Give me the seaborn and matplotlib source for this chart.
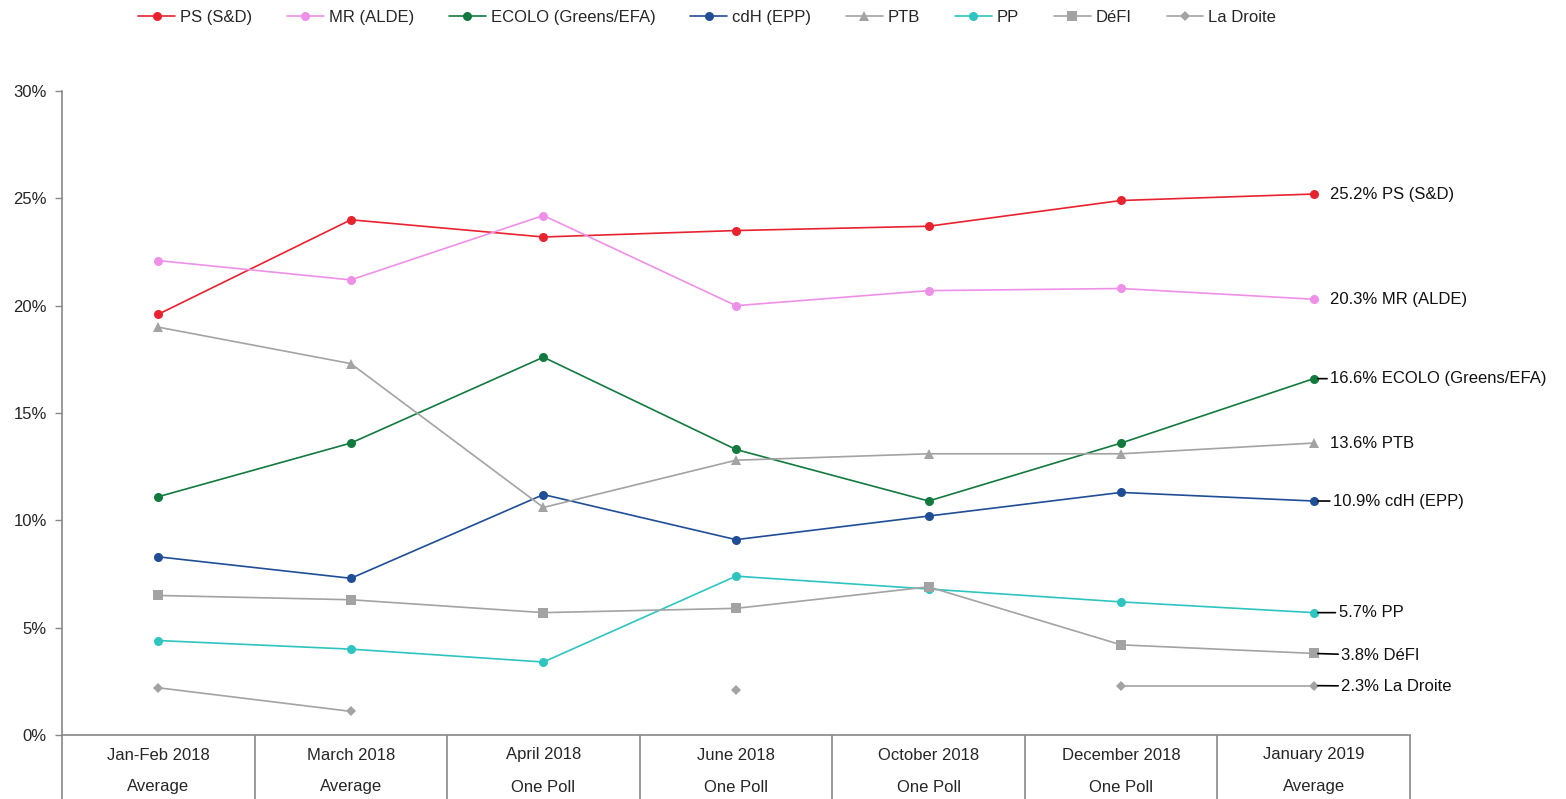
import numpy as np
import pandas as pd
import seaborn as sns
import matplotlib.pyplot as plt
from matplotlib.lines import Line2D
import matplotlib.transforms as mtransforms

# Data
periods = ["Jan-Feb 2018", "March 2018", "April 2018", "June 2018",
           "October 2018", "December 2018", "January 2019"]
methods = ["Average", "Average", "One Poll", "One Poll",
           "One Poll", "One Poll", "Average"]

parties = ["PS (S&D)", "MR (ALDE)", "ECOLO (Greens/EFA)", "cdH (EPP)",
           "PTB", "PP", "DéFI", "La Droite"]

ps = [19.6, 24.0, 23.2, 23.5, 23.7, 24.9, 25.2]
mr = [22.1, 21.2, 24.2, 20.0, 20.7, 20.8, 20.3]
ecolo = [11.1, 13.6, 17.6, 13.3, 10.9, 13.6, 16.6]
cdh = [8.3, 7.3, 11.2, 9.1, 10.2, 11.3, 10.9]
ptb = [19.0, 17.3, 10.6, 12.8, 13.1, 13.1, 13.6]
pp = [4.4, 4.0, 3.4, 7.4, 6.8, 6.2, 5.7]
defi = [6.5, 6.3, 5.7, 5.9, 6.9, 4.2, 3.8]
la_droite = [2.2, 1.1, np.nan, 2.1, np.nan, 2.3, 2.3]

series = [ps, mr, ecolo, cdh, ptb, pp, defi, la_droite]

# Styles
colors = ["#E8222E", "#EE90E8", "#137A3F", "#1F4E96",
          "#A3A3A3", "#2EC4C0", "#A3A3A3", "#A3A3A3"]
markers = ["o", "o", "o", "o", "^", "o", "s", "D"]
msizes = [6.5, 6.5, 6.5, 6.5, 6.5, 6.5, 6.5, 5]
# end-label offsets in points (dx, dy) and whether a leader line is drawn
label_dx = [12, 12, 12, 14, 12, 18, 20, 20]
label_dy = [0, 0, 0, 0, 0, 0, -1.5, -0.5]
leader = [False, False, True, True, False, True, True, True]

sns.set_style("white")
plt.rcParams['font.family'] = ['Liberation Sans', 'DejaVu Sans']
plt.rcParams['font.size'] = 12

fig = plt.figure(figsize=(15.66, 7.99), dpi=100)
ax = fig.add_axes([62 / 1566, 64 / 799, (1410 - 62) / 1566, (735 - 91) / 799])

x = np.arange(len(periods))
for name, vals, c, m, ms in zip(parties, series, colors, markers, msizes):
    df = pd.DataFrame({"x": x, "y": vals})
    # split into contiguous runs so gaps stay broken
    run_id = df["y"].isna().cumsum()
    for _, seg in df.dropna().groupby(run_id[df["y"].notna()]):
        sns.lineplot(data=seg, x="x", y="y", ax=ax, color=c, marker=m,
                     markersize=ms, markeredgewidth=0, linewidth=1.2,
                     legend=False)

if ax.get_legend() is not None:
    ax.get_legend().remove()

# end labels
for i, (name, vals) in enumerate(zip(parties, series)):
    v = vals[-1]
    kw = {}
    if leader[i]:
        kw["arrowprops"] = dict(arrowstyle="-", color="black", lw=1.2,
                                shrinkA=0, shrinkB=3)
    ax.annotate(f"{v:.1f}% {name}", xy=(x[-1], v),
                xytext=(label_dx[i], label_dy[i]), textcoords="offset points",
                ha="left", va="center", fontsize=12, color="#111111",
                annotation_clip=False, **kw)

ax.set_xlim(-0.5, len(periods) - 0.5)
ax.set_ylim(0, 30)
ax.set_yticks(range(0, 31, 5))
ax.set_yticklabels([f"{t}%" for t in range(0, 31, 5)])
ax.set_xticks([])
ax.set_xlabel("")
ax.set_ylabel("")
ax.tick_params(axis="y", left=True, length=5, color="#888888", width=1,
               labelsize=12, pad=6)

for s in ["top", "right"]:
    ax.spines[s].set_visible(False)
for s in ["left", "bottom"]:
    ax.spines[s].set_color("#888888")
    ax.spines[s].set_linewidth(1.2)

# category table below the axis
trans = mtransforms.blended_transform_factory(ax.transData, ax.transAxes)
ax.vlines(np.arange(len(periods) + 1) - 0.5, -0.11, 0, transform=trans,
          color="#888888", lw=1.2, clip_on=False)
for xi, p, m in zip(x, periods, methods):
    ax.text(xi, -20 / 644, p, transform=trans, ha="center", va="center",
            fontsize=12)
    ax.text(xi, -52 / 644, m, transform=trans, ha="center", va="center",
            fontsize=12)

# legend
handles = [Line2D([0], [0], color=c, marker=m, markersize=ms,
                  markeredgewidth=0, lw=1.2)
           for c, m, ms in zip(colors, markers, msizes)]
fig.legend(handles, parties, loc="center left", bbox_to_anchor=(0.084, 0.978),
           ncol=len(parties), frameon=False, fontsize=12, handlelength=2.2,
           handletextpad=0.3, columnspacing=2.1, borderaxespad=0)

fig.savefig("out.png", dpi=100)
